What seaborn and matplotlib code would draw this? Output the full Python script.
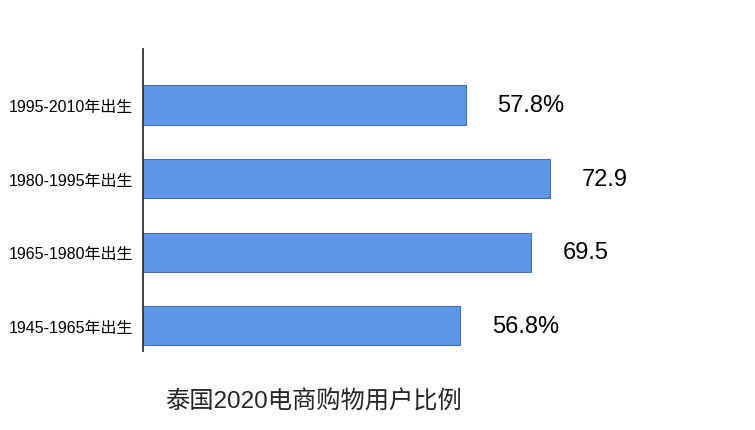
import pandas as pd
import matplotlib
matplotlib.use("Agg")
import matplotlib.pyplot as plt
import seaborn as sns

# Thailand 2020 e-commerce shoppers, by birth cohort
cohorts = ["1995-2010年出生", "1980-1995年出生", "1965-1980年出生", "1945-1965年出生"]
shares = [57.8, 72.9, 69.5, 56.8]
share_labels = ["57.8%", "72.9", "69.5", "56.8%"]
title = "泰国2020电商购物用户比例"

df = pd.DataFrame({"cohort": cohorts, "share": shares})

sns.set_style("white")
plt.rcParams["font.family"] = ["Liberation Sans", "Noto Sans CJK SC", "DejaVu Sans"]

fig = plt.figure(figsize=(7.55, 4.31), dpi=100)
ax = fig.add_axes([143 / 755, 1 - 352 / 431, 558 / 755, 302 / 431])

sns.barplot(data=df, x="share", y="cohort", orient="h", color="#5f96e6",
            saturation=1, width=0.53, edgecolor="#4a6eb0", linewidth=0.8, ax=ax)

for i, (v, lab) in enumerate(zip(shares, share_labels)):
    ax.annotate(lab, (v, i), xytext=(23, 0), textcoords="offset points",
                va="center", ha="left", fontsize=17, color="black")

ax.set_xlim(0, 100)
ax.set_ylim(3.34, -0.76)
ax.set_xlabel("")
ax.set_ylabel("")
ax.set_xticks([])
ax.tick_params(axis="y", length=0, pad=7, labelsize=11.5)
for lbl in ax.get_yticklabels():
    lbl.set_color("black")
for s in ["top", "right", "bottom"]:
    ax.spines[s].set_visible(False)
ax.spines["left"].set_color("#333333")
ax.spines["left"].set_linewidth(1.3)

fig.text(313 / 755, 1 - 402 / 431, title, ha="center", va="center", fontsize=17.5)

fig.savefig("out.png", dpi=100)
